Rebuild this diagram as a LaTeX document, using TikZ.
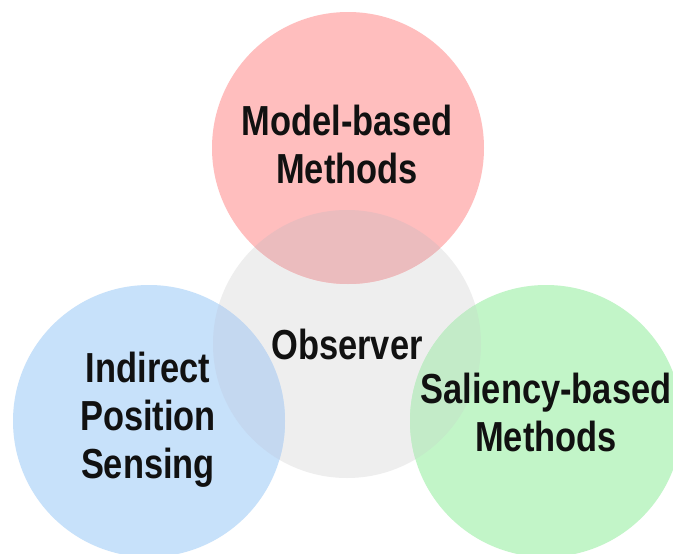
\documentclass[tikz,border=0pt]{standalone}
\usepackage{fontspec}
\newfontfamily\labfont{Liberation Sans}[FakeStretch=0.82]
\definecolor{redc}{HTML}{FFBEBE}
\definecolor{grayc}{HTML}{EEEEEE}
\definecolor{bluec}{HTML}{C7E1FA}
\definecolor{greenc}{HTML}{C2F5C8}
\definecolor{redgray}{HTML}{EBBCBE}
\definecolor{bluegray}{HTML}{C4D8F0}
\definecolor{greengray}{HTML}{C3EBC8}
\definecolor{txt}{HTML}{111111}
\begin{document}
\begin{tikzpicture}[x=1pt,y=-1pt,
  lab/.style={font=\labfont\bfseries\fontsize{42}{48}\selectfont,text=txt,align=center,inner sep=0pt}]
\useasboundingbox[fill=white] (0,0) rectangle (673,554);
% circles
\coordinate (cg) at (347,344);
\coordinate (cr) at (348,148);
\coordinate (cb) at (149,421);
\coordinate (cn) at (546,421);
\fill[grayc] (cg) circle[radius=134];
\fill[redc] (cr) circle[radius=136];
\fill[bluec] (cb) circle[radius=136];
\fill[greenc] (cn) circle[radius=136];
\begin{scope}
  \clip (cg) circle[radius=134];
  \fill[redgray] (cr) circle[radius=136];
  \fill[bluegray] (cb) circle[radius=136];
  \fill[greengray] (cn) circle[radius=136];
\end{scope}
% labels
\node[lab] (model) at (347,144) {Model-based\\Methods};
\node[lab,anchor=base] (obs) at (347,359) {Observer};
\node[lab] (ips) at (148,420) {Indirect\\Position\\Sensing};
\node[lab] (sal) at (546,412) {Saliency-based\\Methods};
\end{tikzpicture}
\end{document}
